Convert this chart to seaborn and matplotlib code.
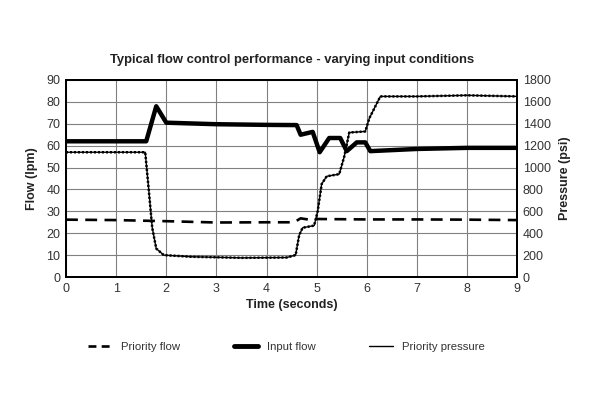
import matplotlib
matplotlib.use("Agg")
import matplotlib.pyplot as plt
from matplotlib.lines import Line2D
import seaborn as sns
import pandas as pd

# ---- data ----
t_input = [0, 1.6, 1.8, 2.0, 3.0, 4.0, 4.6, 4.68, 4.92, 5.06, 5.25, 5.47, 5.6, 5.8, 5.97, 6.07, 7, 8, 9]
input_flow = [62, 62, 78, 70.5, 69.8, 69.5, 69.4, 65, 66.3, 57, 63.5, 63.5, 57.5, 61.5, 61.5, 57.5, 58.5, 59, 59]

t_prio = [0, 1, 2, 3, 4, 4.55, 4.68, 4.85, 5.0, 6, 7, 8, 9]
priority_flow = [26.2, 26, 25.5, 24.9, 25, 25, 26.8, 26.2, 26.5, 26.3, 26.3, 26.2, 26]

t_press = [0, 1.58, 1.65, 1.72, 1.8, 1.95, 2.5, 3.5, 4.4, 4.58, 4.65, 4.72, 4.95, 5.02, 5.1,
           5.2, 5.45, 5.55, 5.65, 5.97, 6.05, 6.27, 7, 8, 9]
priority_pressure = [1140, 1140, 800, 450, 260, 200, 185, 175, 178, 200, 380, 450, 470, 600, 850,
                     920, 940, 1100, 1320, 1330, 1450, 1650, 1650, 1660, 1650]

x_ticks = list(range(0, 10))
flow_ticks = list(range(0, 100, 10))
psi_ticks = list(range(0, 2000, 200))

title = "Typical flow control performance - varying input conditions"
labels = ["Priority flow", "Input flow", "Priority pressure"]

# ---- style ----
sns.set_style("white")
plt.rcParams["font.family"] = ["Liberation Sans", "DejaVu Sans"]
txt = "#333333"

fig = plt.figure(figsize=(6, 4), dpi=100)
ax = fig.add_axes([0.11, 0.3075, 0.752, 0.4925])
ax2 = ax.twinx()

df_in = pd.DataFrame({"t": t_input, "v": input_flow})
df_pf = pd.DataFrame({"t": t_prio, "v": priority_flow})
df_pp = pd.DataFrame({"t": t_press, "v": priority_pressure})

sns.lineplot(data=df_in, x="t", y="v", ax=ax, color="black", linewidth=3.2, sort=False)
sns.lineplot(data=df_pf, x="t", y="v", ax=ax, color="black", linewidth=1.9, sort=False)
ax.lines[-1].set_dashes([4.5, 2.8])
sns.lineplot(data=df_pp, x="t", y="v", ax=ax2, color="black", linewidth=1.0, sort=False)
sns.lineplot(data=df_pp, x="t", y="v", ax=ax2, color="black", linewidth=1.8, sort=False)
ax2.lines[-1].set_dashes([0.8, 0.8])

ax.set_xlim(0, 9)
ax.set_ylim(0, 90)
ax2.set_ylim(0, 1800)
ax.set_xticks(x_ticks)
ax.set_yticks(flow_ticks)
ax2.set_yticks(psi_ticks)
ax.grid(True, color="#808080", linewidth=0.8)
ax.set_axisbelow(True)
for a in (ax, ax2):
    for s in a.spines.values():
        s.set_color("black")
        s.set_linewidth(1.4)
    a.tick_params(length=0, labelsize=9, labelcolor=txt, pad=4)

ax.set_xlabel("Time (seconds)", fontsize=9, fontweight="bold", color="#222222", labelpad=3)
ax.set_ylabel("Flow (lpm)", fontsize=9, fontweight="bold", color="#222222", labelpad=6)
ax2.set_ylabel("Pressure (psi)", fontsize=9, fontweight="bold", color="#222222", labelpad=6)

fig.text(0.486, 0.851, title, ha="center", va="center", fontsize=9.4, fontweight="bold", color="#222222")

handles = [
    Line2D([], [], color="black", linewidth=1.9, dashes=[3, 2]),
    Line2D([], [], color="black", linewidth=3.5),
    Line2D([], [], color="black", linewidth=1.0),
]
leg = fig.legend(handles, labels, loc="center", bbox_to_anchor=(0.478, 0.1325), ncol=3,
                 frameon=False, fontsize=8.2, handlelength=2.1, columnspacing=4.7, handletextpad=0.8)
for t in leg.get_texts():
    t.set_color(txt)

fig.savefig("out.png", dpi=100, facecolor="white")
